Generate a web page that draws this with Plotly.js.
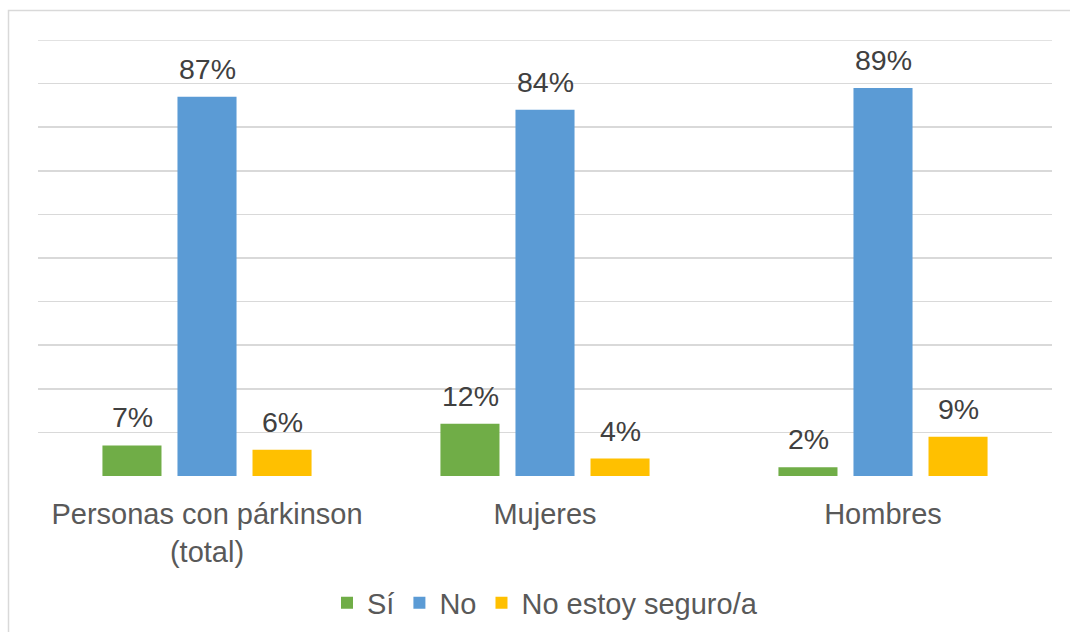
<!DOCTYPE html>
<html>
<head>
<meta charset="utf-8">
<script src="https://cdn.plot.ly/plotly-3.0.1.min.js"></script>
<style>html,body{margin:0;padding:0;background:#fff;}#chart{width:1070px;height:632px;}</style>
</head>
<body>
<div id="chart"></div>
<script>
const categories = ["Personas con párkinson<br>(total)", "Mujeres", "Hombres"];
const seriesNames = ["Sí", "No", "No estoy seguro/a"];
const siValues = [7, 12, 2];
const noValues = [87, 84, 89];
const noSeguroValues = [6, 4, 9];
const seriesColors = ["#70AD47", "#5B9BD5", "#FFC000"];

const FONT = "Liberation Sans, Arial, sans-serif";
const allValues = [siValues, noValues, noSeguroValues];
const traces = allValues.map((vals, i) => ({
  type: "bar",
  name: seriesNames[i],
  x: categories,
  y: vals,
  marker: {color: seriesColors[i]},
  hoverinfo: "none"
}));

// data labels as annotations anchored to each bar through the axes
const SLOT = 75; // pixel offset between grouped bars
const annotations = [];
allValues.forEach((vals, i) => {
  vals.forEach((v, j) => {
    annotations.push({
      x: categories[j], y: v, xref: "x", yref: "y",
      xshift: (i - 1) * SLOT, yshift: 10,
      yanchor: "bottom", xanchor: "center",
      text: v + "%", showarrow: false,
      font: {family: FONT, size: 28.5, color: "#404040"}
    });
  });
});

const W = 1070, H = 632, L = 38, R = 18, T = 40, B = 156;
const pw = W - L - R, ph = H - T - B;
const px = v => (v - L) / pw;
const py = v => (H - B - v) / ph;

const layout = {
  width: W, height: H,
  margin: {l: L, r: R, t: T, b: B, pad: 0, autoexpand: false},
  paper_bgcolor: "#ffffff",
  plot_bgcolor: "#ffffff",
  barmode: "group",
  bargap: 0.334,
  bargroupgap: 0.213,
  font: {family: FONT, color: "#595959"},
  xaxis: {
    tickfont: {size: 29, color: "#595959"},
    showline: false, showgrid: false, zeroline: false, ticks: "",
    ticklabelstandoff: 18, automargin: false
  },
  yaxis: {
    range: [0, 100], dtick: 10, showticklabels: false,
    gridcolor: "#D9D9D9", gridwidth: 1.5, zeroline: false, showline: false, ticks: "",
    automargin: false
  },
  showlegend: true,
  legend: {
    orientation: "h", x: 0.5, xanchor: "center", y: py(603), yanchor: "middle",
    font: {size: 29, color: "#595959"}, itemwidth: 30, tracegroupgap: 0
  },
  annotations: annotations,
  shapes: [
    {
      type: "rect", xref: "paper", yref: "paper",
      x0: px(8.5), x1: px(1080), y0: py(10.5), y1: py(650),
      line: {color: "#D9D9D9", width: 1.5}, fillcolor: "rgba(0,0,0,0)", layer: "below"
    },
    {
      type: "line", xref: "paper", yref: "y",
      x0: 0, x1: 1, y0: 100, y1: 100,
      line: {color: "#D9D9D9", width: 1.5}, layer: "below"
    }
  ]
};

Plotly.newPlot("chart", traces, layout, {staticPlot: true, displayModeBar: false});
</script>
</body>
</html>
